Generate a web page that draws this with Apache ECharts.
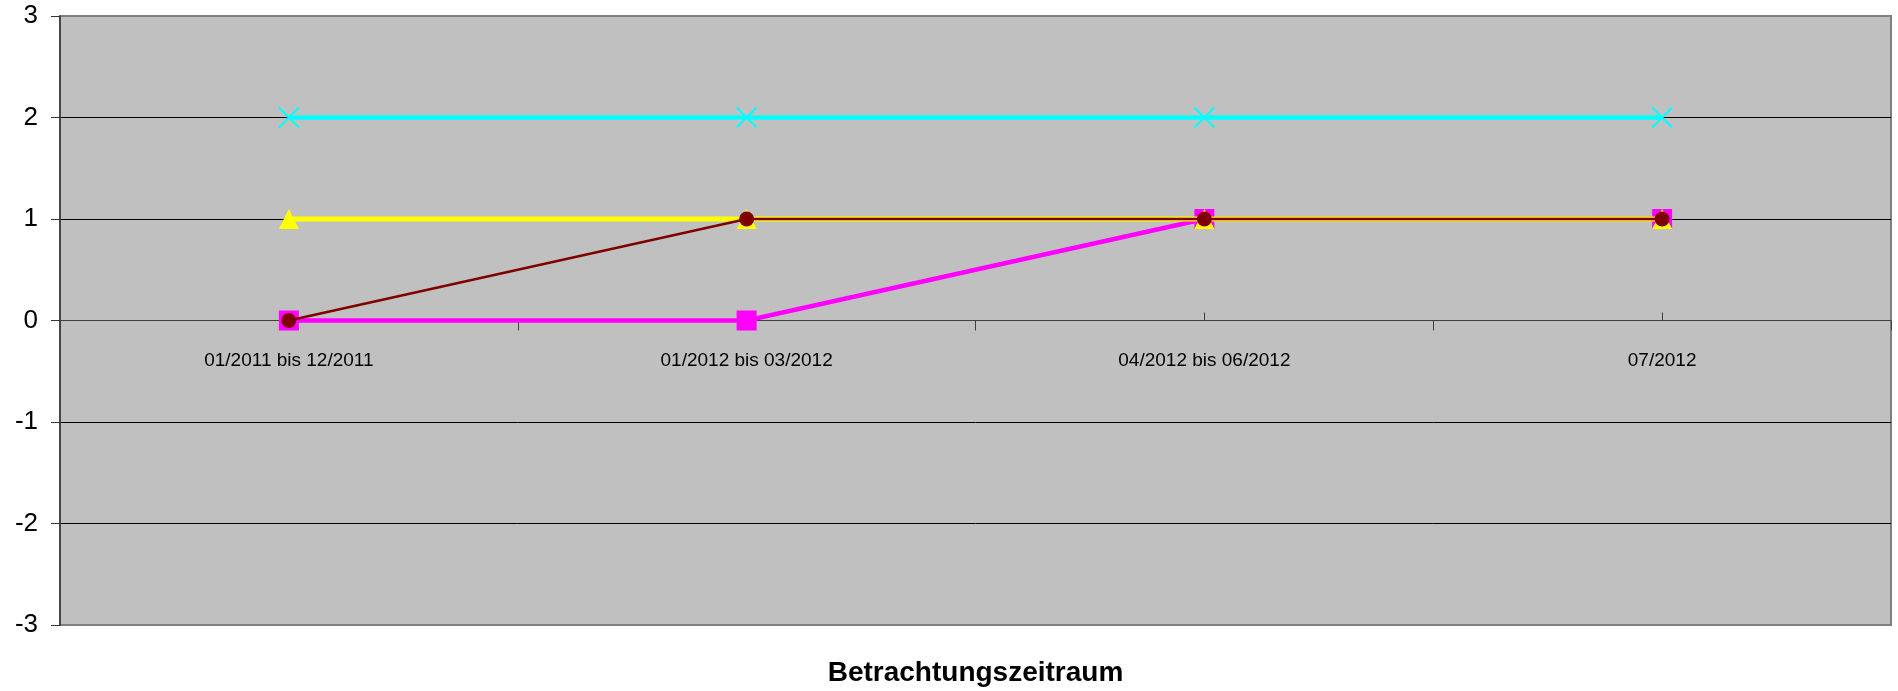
<!DOCTYPE html>
<html>
<head>
<meta charset="utf-8">
<script src="https://cdn.jsdelivr.net/npm/echarts@6/dist/echarts.min.js"></script>
<style>
html,body{margin:0;padding:0;background:#fff;}
#chart{width:1898px;height:691px;}
</style>
</head>
<body>
<div id="chart"></div>
<script>
const categories = ['01/2011 bis 12/2011', '01/2012 bis 03/2012', '04/2012 bis 06/2012', '07/2012'];
const seriesMagenta = [0, 0, 1, 1];
const seriesYellow = [1, 1, 1, 1];
const seriesCyan = [2, 2, 2, 2];
const seriesDarkRed = [0, 1, 1, 1];
const yTicks = { min: -3, max: 3, interval: 1 };
const xTitle = 'Betrachtungszeitraum';

const FONT = "'Liberation Sans', Arial, sans-serif";
const W = 1898, H = 691;
const chart = echarts.init(document.getElementById('chart'));
const GRID = { left: 60, top: 16, right: 7, bottom: 66 };
const gridH = H - GRID.top - GRID.bottom;
// distance of value 0 above grid bottom
const zeroOffset = gridH * (0 - yTicks.min) / (yTicks.max - yTicks.min);

chart.setOption({
  animation: false,
  backgroundColor: '#ffffff',
  grid: {
    left: GRID.left, top: GRID.top, right: GRID.right, bottom: GRID.bottom,
    show: true, backgroundColor: '#C0C0C0', borderColor: '#808080', borderWidth: 2
  },
  xAxis: [{
    type: 'category',
    data: categories,
    boundaryGap: true,
    axisLine: { show: true, onZero: true, lineStyle: { color: '#404040', width: 1 } },
    axisTick: { show: true, inside: false, length: 10, lineStyle: { color: '#404040' } },
    axisLabel: { show: false },
    splitLine: { show: false },
    z: 0
  }, {
    type: 'category',
    data: categories,
    position: 'bottom',
    offset: -zeroOffset,
    boundaryGap: true,
    axisLine: { show: false, onZero: false },
    axisTick: { show: true, inside: true, alignWithLabel: true, length: 8, lineStyle: { color: '#404040' } },
    axisLabel: { show: true, color: '#000', fontFamily: FONT, fontSize: 19, margin: 31, interval: 0 },
    splitLine: { show: false },
    z: 0
  }],
  yAxis: {
    type: 'value',
    min: yTicks.min, max: yTicks.max, interval: yTicks.interval,
    axisLine: { show: true, onZero: false, lineStyle: { color: '#333', width: 1.5 } },
    axisTick: { show: true, inside: false, length: 9, lineStyle: { color: '#333' } },
    axisLabel: { color: '#000', fontFamily: FONT, fontSize: 26, margin: 22 },
    splitLine: { show: true, showMinLine: false, showMaxLine: false, lineStyle: { color: '#000', width: 1 } }
  },
  graphic: [{
    type: 'text',
    x: (GRID.left + (W - GRID.right)) / 2,
    y: 673,
    style: {
      text: xTitle, fill: '#000', font: "bold 28px " + FONT,
      textAlign: 'center', textVerticalAlign: 'middle'
    }
  }],
  series: [{
    type: 'line', name: 'Magenta', data: seriesMagenta,
    symbol: 'rect', symbolSize: 20, z: 2,
    lineStyle: { color: '#FF00FF', width: 4.5 },
    itemStyle: { color: '#FF00FF' }
  }, {
    type: 'line', name: 'Gelb', data: seriesYellow,
    symbol: 'triangle', symbolSize: 20, z: 3,
    lineStyle: { color: '#FFFF00', width: 5 },
    itemStyle: { color: '#FFFF00' }
  }, {
    type: 'line', name: 'Cyan', data: seriesCyan,
    symbol: 'path://M0,0L20,20M20,0L0,20', symbolSize: 20, z: 4,
    lineStyle: { color: '#00FFFF', width: 4.5 },
    itemStyle: { color: '#00FFFF', borderColor: '#00FFFF', borderWidth: 2 }
  }, {
    type: 'line', name: 'Dunkelrot', data: seriesDarkRed,
    symbol: 'circle', symbolSize: 15, z: 5,
    lineStyle: { color: '#800000', width: 2.5 },
    itemStyle: { color: '#800000' }
  }]
});
</script>
</body>
</html>
